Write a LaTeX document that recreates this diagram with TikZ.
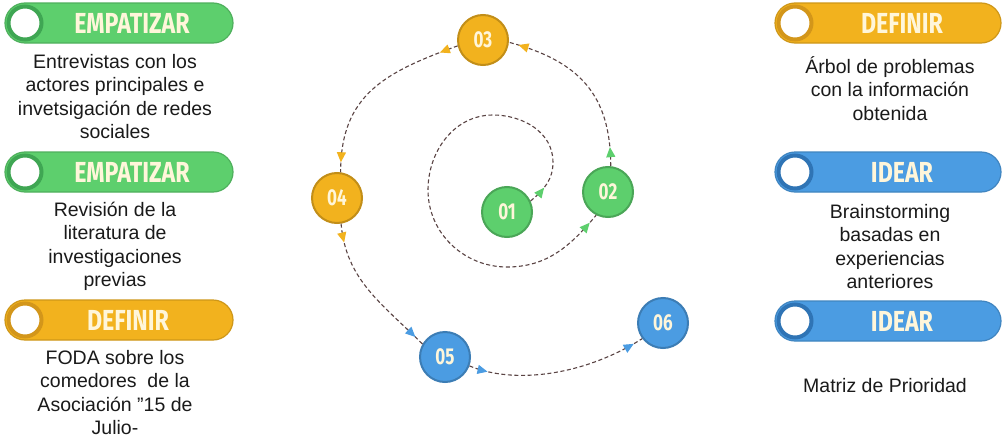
\documentclass[tikz,border=0pt]{standalone}
\usepackage{graphicx}
\usepackage{fontspec}
\setmainfont{Liberation Sans}
\newfontfamily\labelfont{Fira Sans}
\usetikzlibrary{arrows.meta,decorations.markings}

\definecolor{grn}{HTML}{5DCF6D}
\definecolor{grnd}{HTML}{3FA653}
\definecolor{org}{HTML}{F2B21E}
\definecolor{orgd}{HTML}{D3961A}
\definecolor{blu}{HTML}{4B9CE2}
\definecolor{blud}{HTML}{2F74B5}
\definecolor{cream}{HTML}{FFF6DA}
\definecolor{dashc}{HTML}{5A4444}
\definecolor{ink}{HTML}{1A1A1A}

\newcommand\cond[1]{\scalebox{0.8}[1]{#1}}
\newcommand\numtxt[1]{\scalebox{0.74}[1]{#1}}

\tikzset{
  x=1pt, y=1pt,
  pill/.style={rounded corners=20pt, fill=#1, draw=#1!85!black, line width=1.2pt,
    minimum height=40pt, inner sep=0pt},
  hole/.style={circle, fill=white, draw=#1, line width=4pt, minimum size=33pt, inner sep=0pt},
  tag/.style={text=cream, font=\labelfont\bfseries\fontsize{29}{29}\selectfont, inner sep=0pt},
  % a block is placed by the baseline of its last line
  desc/.style={align=center, font=\fontsize{19.5}{23.5}\selectfont, text=ink, anchor=base, inner sep=0pt},
  num/.style={circle, fill=#1, draw=#1!80!black, line width=2pt, minimum size=50pt, inner sep=0pt,
    text=cream, font=\labelfont\bfseries\fontsize{23}{23}\selectfont},
  link/.style 2 args={draw=dashc, line width=1.1pt, dash pattern=on 4pt off 2.6pt,
    postaction={decorate},
    decoration={markings,
      mark=at position 19pt with {\arrow{Triangle[length=10pt, width=9pt, color=#1]}},
      mark=at position -10pt with {\arrow{Triangle[length=10pt, width=9pt, color=#2]}}}}
}

\begin{document}
\begin{tikzpicture}
\fill[white] (0,0) rectangle (1004,-439);
\useasboundingbox (0,0) rectangle (1004,-439);

% ---- left column: stage banners with descriptions
\node[pill=grn, minimum width=228pt] (pl1) at (119,-23) {};
\node[hole=grnd] (hl1) at (25,-23) {};
\node[tag] (tl1) at (132,-23) {\cond{EMPATIZAR}};
\node[desc] (dl1) at (115,-138.5) {Entrevistas con los\\actores principales e\\invetsigación de redes\\sociales};

\node[pill=grn, minimum width=228pt] (pl2) at (119,-172) {};
\node[hole=grnd] (hl2) at (25,-172) {};
\node[tag] (tl2) at (132,-172) {\cond{EMPATIZAR}};
\node[desc] (dl2) at (115,-286.5) {Revisión de la\\literatura de\\investigaciones\\previas};

\node[pill=org, minimum width=228pt] (pl3) at (119,-320) {};
\node[hole=orgd] (hl3) at (25,-320) {};
\node[tag] (tl3) at (128,-320) {\cond{DEFINIR}};
\node[desc] (dl3) at (115,-434.5) {FODA sobre los\\comedores~ de la\\Asociación "15 de\\Julio-};

% ---- right column
\node[pill=org, minimum width=226pt] (pr1) at (888,-23) {};
\node[hole=orgd] (hr1) at (795,-23) {};
\node[tag] (tr1) at (902,-23) {\cond{DEFINIR}};
\node[desc] (dr1) at (890,-120) {Árbol de problemas\\con la información\\obtenida};

\node[pill=blu, minimum width=226pt] (pr2) at (888,-172) {};
\node[hole=blud] (hr2) at (795,-172) {};
\node[tag] (tr2) at (902,-172) {\cond{IDEAR}};
\node[desc] (dr2) at (890,-288.5) {Brainstorming\\basadas en\\experiencias\\anteriores};

\node[pill=blu, minimum width=226pt] (pr3) at (888,-321) {};
\node[hole=blud] (hr3) at (795,-321) {};
\node[tag] (tr3) at (902,-321) {\cond{IDEAR}};
\node[desc] (dr3) at (885,-392) {Matriz de Prioridad};

% ---- numbered steps
\node[num=grn] (n01) at (507,-212) {\numtxt{01}};
\node[num=grn] (n02) at (608,-192) {\numtxt{02}};
\node[num=org] (n03) at (483,-40)  {\numtxt{03}};
\node[num=org] (n04) at (337,-198) {\numtxt{04}};
\node[num=blu] (n05) at (445,-357) {\numtxt{05}};
\node[num=blu] (n06) at (663,-323) {\numtxt{06}};

% waypoints of the inner spiral
\coordinate (s1) at (553,-162);
\coordinate (s2) at (493,-115);
\coordinate (s3) at (428,-190);
\coordinate (s4) at (507,-267);

% ---- dashed connectors
\draw[link={grn}{grn}] (n01.25) to[out=40,in=-90] (s1) to[out=90,in=0] (s2)
  to[out=180,in=90] (s3) to[out=-90,in=180] (s4) to[out=0,in=-130] (n02.243);
\draw[link={grn}{org}] (n02.84) to[out=90,in=-15,looseness=1.15] (n03.-5);
\draw[link={org}{org}] (n03.193) to[out=200,in=90,looseness=1.15] (n04.82);
\draw[link={org}{blu}] (n04.-81) to[out=-85,in=135] (n05.150);
\draw[link={blu}{blu}] (n05.-20) .. controls (515,-385) and (585,-375) .. (n06.217);
\end{tikzpicture}
\end{document}
